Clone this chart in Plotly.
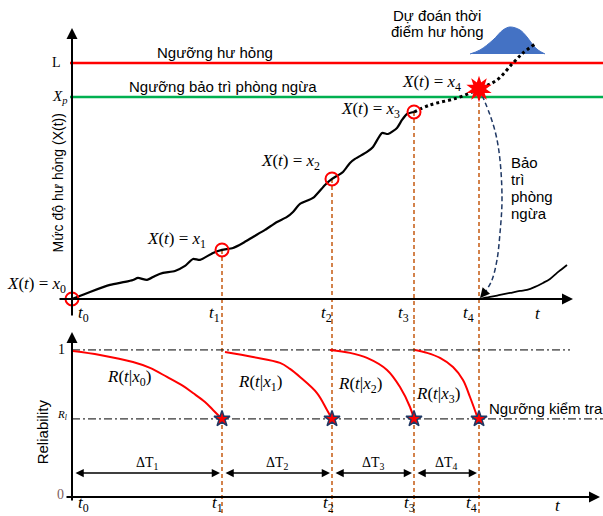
import plotly.graph_objects as go

# ---------------- data ----------------
t_insp = [0.0, 1.50, 2.60, 3.42, 4.07]          # inspection times t0..t4
x_insp = [0.0, 0.49, 1.20, 1.87, 2.10]          # degradation at inspections x0..x4
L_level = 2.36                                    # failure threshold
Xp_level = 2.02                                   # preventive maintenance threshold
R_one = 1.0
R_l = 0.531                                       # inspection threshold

tick_labels = ["<i>t</i><sub>0</sub>", "<i>t</i><sub>1</sub>", "<i>t</i><sub>2</sub>",
               "<i>t</i><sub>3</sub>", "<i>t</i><sub>4</sub>"]
x_labels = ["<i>x</i><sub>0</sub>", "<i>x</i><sub>1</sub>", "<i>x</i><sub>2</sub>",
            "<i>x</i><sub>3</sub>", "<i>x</i><sub>4</sub>"]
dT_labels = ["ΔT<sub>1</sub>", "ΔT<sub>2</sub>", "ΔT<sub>3</sub>", "ΔT<sub>4</sub>"]

# observed degradation path
path_t = [0, 0.18, 0.38, 0.53, 0.61, 0.66, 0.75, 0.83, 0.91, 1.03, 1.13, 1.21, 1.28, 1.41, 1.50,
          1.61, 1.71, 1.81, 1.93, 2.05, 2.15, 2.21, 2.28, 2.41, 2.53, 2.60, 2.71, 2.78, 2.83,
          2.95, 3.01, 3.10, 3.16, 3.25, 3.30, 3.35, 3.42]
path_x = [0, 0.07, 0.14, 0.17, 0.19, 0.21, 0.19, 0.23, 0.26, 0.28, 0.33, 0.40, 0.39, 0.46, 0.49,
          0.51, 0.56, 0.62, 0.69, 0.77, 0.82, 0.87, 0.95, 1.01, 1.14, 1.20, 1.27, 1.36, 1.40,
          1.47, 1.52, 1.66, 1.65, 1.71, 1.79, 1.85, 1.87]

# predicted path (dotted)
fc_t = [3.42, 3.58, 3.85, 4.07, 4.25, 4.41, 4.51, 4.63]
fc_x = [1.87, 1.94, 2.01, 2.10, 2.19, 2.36, 2.46, 2.55]

# failure-time distribution
pdf_t = [3.98, 4.08, 4.21, 4.31, 4.38, 4.48, 4.55, 4.61, 4.66, 4.73]
pdf_x = [2.45, 2.49, 2.59, 2.69, 2.72, 2.69, 2.62, 2.54, 2.49, 2.45]

# path after preventive maintenance
rn_t = [4.07, 4.18, 4.28, 4.38, 4.48, 4.55, 4.63, 4.71, 4.78, 4.85, 4.90, 4.95]
rn_x = [0.0, 0.02, 0.04, 0.06, 0.08, 0.09, 0.12, 0.16, 0.20, 0.26, 0.30, 0.34]

# preventive maintenance return arc
pm_t = [4.10, 4.18, 4.24, 4.28, 4.30, 4.28, 4.25, 4.20, 4.14]
pm_x = [2.04, 1.84, 1.64, 1.39, 0.99, 0.66, 0.39, 0.19, 0.08]

# reliability curves R(t|x_i)
rel_t = [
    [0.01, 0.28, 0.61, 0.78, 0.95, 1.11, 1.21, 1.33, 1.41, 1.50],
    [1.53, 1.81, 2.08, 2.18, 2.28, 2.45, 2.55, 2.60],
    [2.58, 2.78, 2.95, 3.15, 3.28, 3.38, 3.42],
    [3.43, 3.55, 3.68, 3.81, 3.91, 3.98, 4.06],
]
rel_r = [
    [0.993, 0.966, 0.918, 0.878, 0.816, 0.755, 0.707, 0.646, 0.592, 0.531],
    [0.986, 0.952, 0.912, 0.871, 0.816, 0.707, 0.592, 0.531],
    [1.0, 0.980, 0.946, 0.864, 0.748, 0.612, 0.531],
    [1.0, 0.980, 0.946, 0.884, 0.796, 0.680, 0.531],
]
rel_names = x_labels[:4]

# ---------------- styling ----------------
SANS = "Liberation Sans, Arial, sans-serif"
SERIF = "Liberation Serif, DejaVu Serif, serif"
RED = "#FF0000"
GREEN = "#00B050"
BROWN = "#C55A11"
NAVY = "#1F3864"
BLUE = "#4472C4"

X_MIN, X_MAX = -0.72, 5.31
TOP_LO, TOP_HI = -0.21, 2.99
BOT_LO, BOT_HI = -0.129, 1.204

fig = go.Figure()

def line(x, y, yaxis="y", **kw):
    fig.add_trace(go.Scatter(x=x, y=y, mode="lines", yaxis=yaxis, hoverinfo="skip", **kw))

# thresholds
line([-0.02, X_MAX], [L_level, L_level], line=dict(color=RED, width=2.5))
line([-0.02, X_MAX], [Xp_level, Xp_level], line=dict(color=GREEN, width=2.5))

# vertical dashed brown lines (top & bottom)
vx, vy, bx, by = [], [], [], []
for ti, xi in zip(t_insp[1:], x_insp[1:]):
    vx += [ti, ti, None]
    vy += [xi, TOP_LO, None]
    bx += [ti, ti, None]
    by += [BOT_HI, BOT_LO, None]
line(vx, vy, line=dict(color=BROWN, width=1.5, dash="4px,3px"))
line(bx, by, yaxis="y2", line=dict(color=BROWN, width=1.5, dash="4px,3px"))

# distribution
fig.add_trace(go.Scatter(x=pdf_t, y=pdf_x, mode="lines", fill="toself", fillcolor=BLUE,
                         line=dict(color=BLUE, width=1, shape="spline"), hoverinfo="skip"))

# paths
line(path_t, path_x, line=dict(color="black", width=2.2, shape="spline", smoothing=0.6))
line(fc_t, fc_x, line=dict(color="black", width=3, dash="3px,3px", shape="spline"))
line(rn_t, rn_x, line=dict(color="black", width=1.8, shape="spline"))
line(pm_t, pm_x, line=dict(color=NAVY, width=1.5, dash="5px,3px", shape="spline"))

# circles at inspections
fig.add_trace(go.Scatter(x=t_insp[:4], y=x_insp[:4], mode="markers", hoverinfo="skip",
                         marker=dict(symbol="circle-open", size=13, color=RED, line=dict(width=2, color=RED))))
# burst at x4
fig.add_trace(go.Scatter(x=[t_insp[4], t_insp[4]], y=[x_insp[4], x_insp[4]], mode="markers", hoverinfo="skip",
                         marker=dict(symbol="star", size=19, color=RED, angle=[0, 36], line=dict(width=0))))

# reliability panel
line([0, 4.98], [R_one, R_one], yaxis="y2", line=dict(color="black", width=1, dash="8px,3px,2px,3px"))
line([0, X_MAX], [R_l, R_l], yaxis="y2", line=dict(color="black", width=1, dash="8px,3px,2px,3px"))
for rt, rr in zip(rel_t, rel_r):
    line(rt, rr, yaxis="y2", line=dict(color=RED, width=2, shape="spline"))
fig.add_trace(go.Scatter(x=t_insp[1:], y=[R_l] * 4, mode="markers", yaxis="y2", hoverinfo="skip",
                         marker=dict(symbol="star", size=12, color=RED, line=dict(width=1.5, color=NAVY))))

# ---------------- annotations ----------------
ann = []

def txt(text, x, y, yref="y", size=15, family=SANS, **kw):
    ann.append(dict(text=text, x=x, y=y, xref="x", yref=yref, showarrow=False,
                    font=dict(family=family, size=size, color=kw.pop("color", "black")), **kw))

def arrow(x, y, ax, ay, yref="y", width=2, head=2, size=1.0, side="end", color="black"):
    ann.append(dict(text="", x=x, y=y, ax=ax, ay=ay, xref="x", yref=yref, axref="x", ayref=yref,
                    showarrow=True, arrowhead=head, arrowsize=size, arrowwidth=width,
                    arrowcolor=color, arrowside=side, standoff=0, startstandoff=0))

# axes (top)
arrow(0, 2.71, 0, -0.18, width=2, size=1.1)
arrow(5.01, 0, -0.14, 0, width=2, size=1.1)
# axes (bottom)
arrow(0, 1.122, 0, -0.034, yref="y2", width=2, size=1.1)
arrow(5.28, 0, -0.07, 0, yref="y2", width=2, size=1.1)
# maintenance arrow head
arrow(4.08, 0.01, pm_t[-1], pm_x[-1], width=1.5, size=1.3)
# delta T arrows
for a, b in zip(t_insp[:-1], t_insp[1:]):
    arrow(b - 0.02, 0.163, a + 0.02, 0.163, yref="y2", width=1.5, size=1.1, side="end+start")

# threshold texts
txt("Ngưỡng hư hỏng", 1.43, L_level, yshift=10)
txt("Ngưỡng bảo trì phòng ngừa", 0.55, Xp_level, xanchor="left", yshift=10)
txt("L", -0.22, L_level, family=SERIF, size=14, xanchor="left")
txt("<i>X<sub>p</sub></i>", -0.22, Xp_level, family=SERIF, size=15, xanchor="left")

# y titles
ann.append(dict(text="Mức độ hư hỏng (X(t))", x=-0.145, y=1.16, xref="x", yref="y", showarrow=False,
                textangle=-90, font=dict(family=SANS, size=14, color="black")))
ann.append(dict(text="Reliability", x=-0.30, y=0.44, xref="x", yref="y2", showarrow=False,
                textangle=-90, font=dict(family=SANS, size=15, color="black")))

# X(t) = x_i labels
dxs = [-4, -14, -10, -12, -16]
dys = [14, 10, 17, 2, 6]
for ti, xi, lab, dx, dy in zip(t_insp, x_insp, x_labels, dxs, dys):
    txt(f"<i>X</i>(<i>t</i>) = {lab}", ti, xi, family=SERIF, size=17,
        xanchor="right", xshift=dx, yshift=dy)

# tick labels top
tdx = [11, -8, -6, -11, -11]
for ti, lab, dx in zip(t_insp, tick_labels, tdx):
    txt(lab, ti, -0.15, family=SERIF, size=17, xshift=dx)
txt("<i>t</i>", 4.66, -0.15, family=SERIF, size=17)

# forecast texts
txt("Dự đoán thời", 3.65, 2.84)
txt("điểm hư hỏng", 3.65, 2.67)
for i, w in enumerate(["Bảo", "trì", "phòng", "ngừa"]):
    txt(w, 4.37, 1.36 - 0.17 * i, xanchor="left")

# bottom panel labels
txt("1", -0.11, R_one, yref="y2", family=SERIF, size=14)
txt("<i>R</i><sub><i>l</i></sub>", -0.10, 0.56, yref="y2", family=SERIF, size=11)
txt("0", -0.12, 0.02, yref="y2", family=SERIF, size=14, color="#7F6060")
r_dx = [57, 38, 28, 24]
r_y = [0.81, 0.776, 0.762, 0.694]
for ti, lab, dx, ry in zip(t_insp[:4], rel_names, r_dx, r_y):
    txt(f"<i>R</i>(<i>t</i>|{lab})", ti, ry, yref="y2", family=SERIF, size=17, xshift=dx)
txt("Ngưỡng kiểm tra", 4.15, 0.60, yref="y2", xanchor="left")
for a, b, lab in zip(t_insp[:-1], t_insp[1:], dT_labels):
    txt(lab, (a + b) / 2, 0.23, yref="y2", family=SERIF, size=14)

bdx = [11, -5, -4, -5, -8]
for ti, lab, dx in zip(t_insp, tick_labels, bdx):
    txt(lab, ti, -0.045, yref="y2", family=SERIF, size=17, xshift=dx)
txt("<i>t</i>", 4.86, -0.06, yref="y2", family=SERIF, size=17)

fig.update_layout(
    width=603, height=516,
    margin=dict(l=0, r=0, t=0, b=0),
    paper_bgcolor="white", plot_bgcolor="white",
    showlegend=False,
    xaxis=dict(range=[X_MIN, X_MAX], visible=False, fixedrange=True),
    yaxis=dict(range=[TOP_LO, TOP_HI], domain=[0.38, 1.0], visible=False, anchor="x"),
    yaxis2=dict(range=[BOT_LO, BOT_HI], domain=[0.0, 0.38], visible=False, anchor="x"),
    annotations=ann,
)

fig.write_html("out.html", config={"displayModeBar": False},
               post_script="document.body.style.margin='0';document.body.style.overflow='hidden';")
